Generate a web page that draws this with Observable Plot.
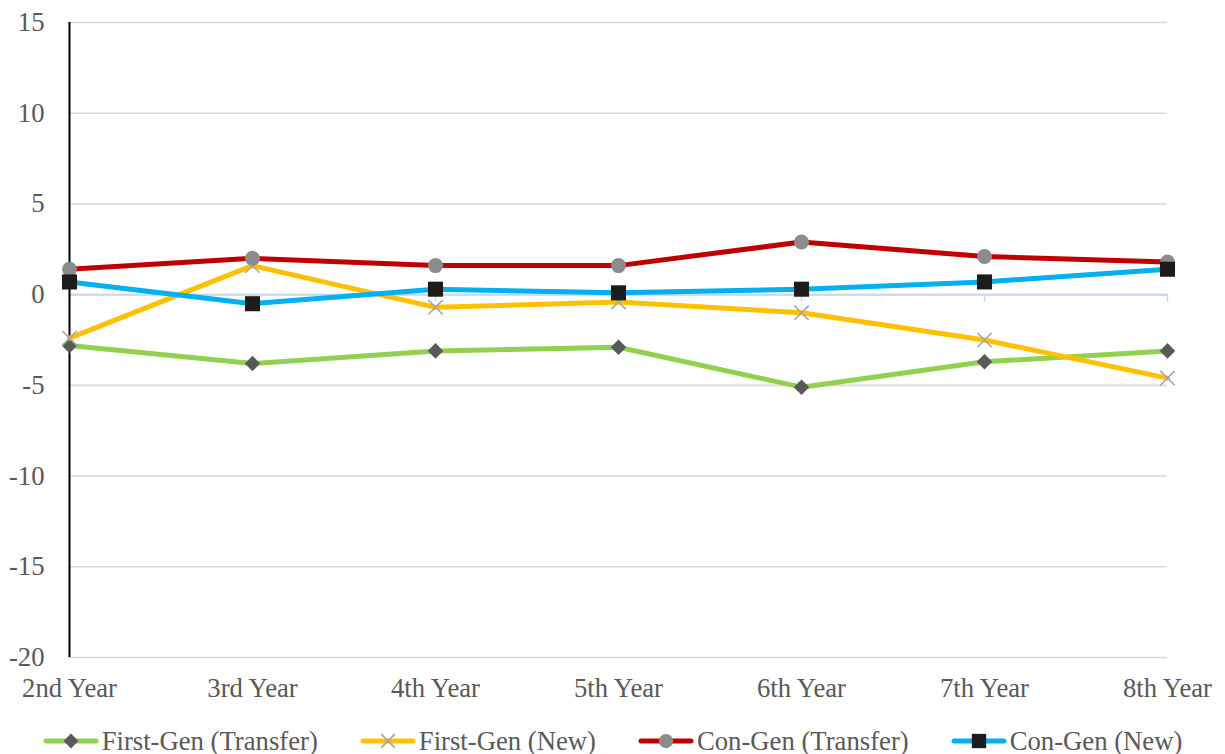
<!DOCTYPE html>
<html><head><meta charset="utf-8">
<script src="https://cdn.jsdelivr.net/npm/d3@7"></script>
<script src="https://cdn.jsdelivr.net/npm/@observablehq/plot@0.6"></script>
<style>
body{margin:0;background:#fff;font-family:"Liberation Serif","Times New Roman",serif;}
#legend{display:flex;justify-content:center;align-items:center;gap:42px;height:42px;font-size:26.7px;color:#595959;width:1225px;}
.item{display:flex;align-items:center;}
.item span{margin-left:3px;white-space:nowrap;}
</style></head><body><div id="chart"></div><div id="legend"></div>
<script>
const years = ["2nd Year","3rd Year","4th Year","5th Year","6th Year","7th Year","8th Year"];
const firstGenTransfer = [-2.8,-3.8,-3.1,-2.9,-5.1,-3.7,-3.1];
const firstGenNew = [-2.4,1.6,-0.7,-0.4,-1.0,-2.5,-4.6];
const conGenTransfer = [1.4,2.0,1.6,1.6,2.9,2.1,1.8];
const conGenNew = [0.7,-0.5,0.3,0.1,0.3,0.7,1.4];
const yTicks = [-20,-15,-10,-5,0,5,10,15];

const seriesNames = ["First-Gen (Transfer)","First-Gen (New)","Con-Gen (Transfer)","Con-Gen (New)"];
const seriesValues = [firstGenTransfer, firstGenNew, conGenTransfer, conGenNew];
const lineColors = ["#92d050","#ffc000","#c00000","#00b0f0"];
const markerSymbols = ["diamond2","times","circle","square"];
const markerColors = ["#595959","#a6a6a6","#8c8c8c","#1c1c1c"];
const markerR = [7.0,6.6,7.5,8.5];

const marks = [
  Plot.ruleY(yTicks, {stroke:"#d9d9d9", strokeWidth:1.6}),
  Plot.ruleY([0], {stroke:"#c6d9ef", strokeWidth:2}),
  Plot.ruleX(years, {x:d=>d, y1:0, y2:-0.4, stroke:"#c6d9ef", strokeWidth:1.5}),
  Plot.ruleX([years[0]], {x:d=>d, stroke:"#000", strokeWidth:2}),
  Plot.axisY({ticks:yTicks, tickSize:0, tickPadding:24, label:null, tickFormat:d=>String(d)}),
  Plot.axisX({tickSize:0, tickPadding:21, label:null})
];
seriesValues.forEach((vals,i)=>{
  const data = years.map((y,j)=>({year:y, value:vals[j]}));
  marks.push(Plot.lineY(data, {x:"year", y:"value", stroke:lineColors[i], strokeWidth:5, strokeLinecap:"round", strokeLinejoin:"round"}));
  const isStroke = markerSymbols[i]==="times";
  marks.push(Plot.dot(data, {x:"year", y:"value", symbol:markerSymbols[i], r:markerR[i],
    fill: isStroke ? "none" : markerColors[i],
    stroke: isStroke ? markerColors[i] : "none",
    strokeWidth: isStroke ? 1.6 : 0}));
});

const chart = Plot.plot({
  width:1225, height:720,
  marginLeft:68, marginRight:58, marginTop:22, marginBottom:63,
  x:{type:"point", domain:years, padding:0},
  y:{domain:[-20,15]},
  style:{fontFamily:'"Liberation Serif","Times New Roman",serif', fontSize:"26.7px", color:"#595959", background:"#fff", overflow:"visible"},
  marks
});
document.getElementById("chart").appendChild(chart);

const symbolMap = {diamond2:d3.symbolDiamond2, times:d3.symbolTimes, circle:d3.symbolCircle, square:d3.symbolSquare};
const legend = d3.select("#legend");
seriesNames.forEach((name,i)=>{
  const item = legend.append("div").attr("class","item");
  const svg = item.append("svg").attr("width",56).attr("height",22);
  svg.append("line").attr("x1",3).attr("x2",53).attr("y1",11).attr("y2",11)
    .attr("stroke",lineColors[i]).attr("stroke-width",5).attr("stroke-linecap","round");
  const isStroke = markerSymbols[i]==="times";
  const r = markerR[i]*0.95;
  svg.append("path").attr("transform","translate(28,11)")
    .attr("d", d3.symbol(symbolMap[markerSymbols[i]], r*r*Math.PI)())
    .attr("fill", isStroke ? "none" : markerColors[i])
    .attr("stroke", isStroke ? markerColors[i] : "none")
    .attr("stroke-width", isStroke ? 1.6 : 0);
  item.append("span").text(name);
});
</script>
</body></html>
